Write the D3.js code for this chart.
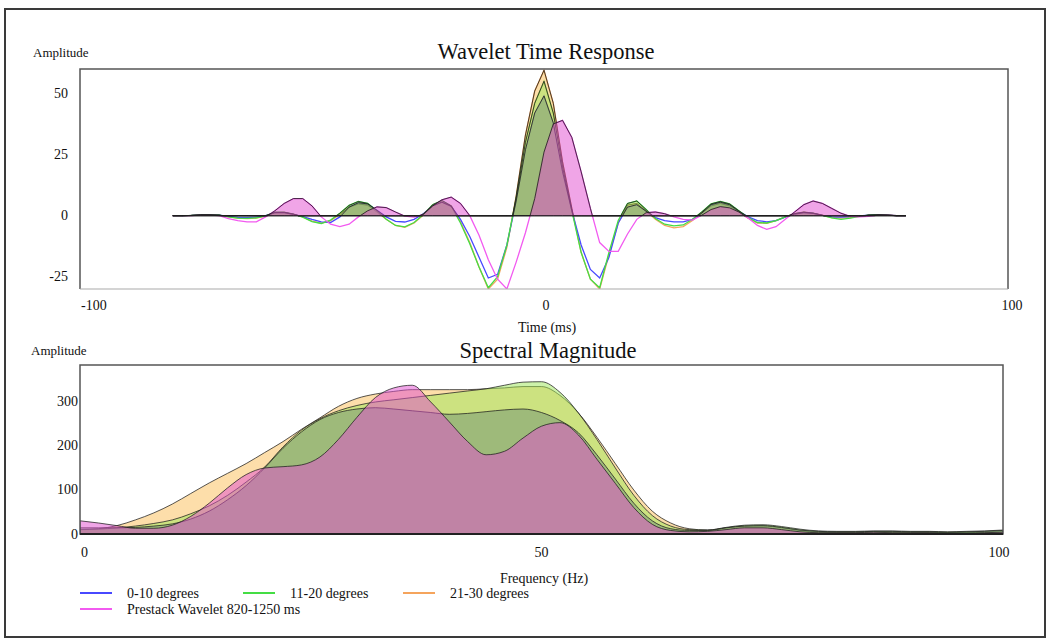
<!DOCTYPE html>
<html><head><meta charset="utf-8">
<script src="https://cdn.jsdelivr.net/npm/d3@7"></script>
<style>
body{margin:0;background:#fff;}
text{font-family:"Liberation Serif","Times New Roman",serif;fill:#111;}
</style></head><body>
<svg id="c" width="1049" height="641"></svg>
<script>
// ---------- DATA ----------
const seriesNames = ["0-10 degrees","11-20 degrees","21-30 degrees","Prestack Wavelet 820-1250 ms"];
const timeTicks = [-100, 0, 100];
const ampTicksTime = [-25, 0, 25, 50];
const freqTicks = [0, 50, 100];
const ampTicksFreq = [0, 100, 200, 300];

const timeMs = [-80,-78,-76,-74,-72,-70,-68,-66,-64,-62,-60,-58,-56,-54,-52,-50,-48,-46,-44,-42,-40,-38,-36,-34,-32,-30,-28,-26,-24,-22,-20,-18,-16,-14,-12,-10,-8,-6,-4,-2,0,2,4,6,8,10,12,14,16,18,20,22,24,26,28,30,32,34,36,38,40,42,44,46,48,50,52,54,56,58,60,62,64,66,68,70,72,74,76,78];

const wavBlue = [0,0,0.1,0.3,0.3,0.2,-0.3,-0.7,-0.8,-0.6,0,1.2,1.2,0.5,-0.4,-1.5,-2.5,-2.8,-0.5,3.5,5.3,4.8,2.2,-0.5,-2.3,-2.6,-1.5,0.8,4.0,5.5,3.8,-1.5,-8.5,-17,-25.5,-24,-12,6,27,42,49,38,18,2,-12,-22,-25.5,-17,-3,3.5,4.5,1.8,-0.8,-2.0,-2.5,-2.5,-1.5,1.0,4.5,5.5,4.5,1.8,-0.5,-2.0,-2.5,-2.0,-0.6,0.6,1.2,0.9,0.1,-0.5,-0.6,-0.4,-0.1,0.2,0.3,0.2,0,0];
const wavGreen = [0,0,0.1,0.3,0.3,0.2,-0.5,-1.0,-1.1,-0.9,-0.1,1.4,1.4,0.6,-0.6,-2.4,-3.2,-1.8,1.0,4.2,5.8,5.0,2.0,-1.5,-4.0,-4.6,-2.8,0.5,4.5,6.2,4.0,-3.0,-11.5,-21,-29.5,-25,-12,7,30,46,55,42,20,2,-15,-26,-29.5,-15,-2,5.0,6.0,2.5,-1.2,-3.5,-4.2,-3.8,-1.5,1.5,4.8,5.8,4.8,2.0,-0.8,-2.8,-3.0,-2.0,-0.5,0.8,1.4,1.0,0.1,-0.9,-1.5,-1.0,-0.3,0.2,0.3,0.2,0,0];
const wavOrange = [0,0,0.1,0.3,0.3,0.2,-0.5,-1.0,-1.2,-1.0,-0.2,1.2,1.3,0.6,-0.5,-2.2,-3.1,-2.0,0.5,3.5,4.8,4.3,1.5,-1.5,-4.0,-4.8,-3.0,0.3,4.0,5.6,4.0,-2.5,-11,-21,-30,-26,-13,8,33,51,59.5,46,22,3,-15,-26,-30,-16,-3,4.3,5.0,2.0,-1.5,-4.0,-5.0,-4.5,-2.0,1.2,4.0,5.0,4.0,1.5,-1.0,-3.0,-3.1,-2.0,-0.5,0.8,1.4,1.0,0.2,-0.8,-1.0,-0.8,-0.3,0.2,0.3,0.2,0,0];
const wavMagenta = [0,0,0,0.2,0.2,0,-1.2,-2.0,-2.5,-2.5,-0.5,2.0,5.0,7.0,7.0,4.0,-0.5,-3.5,-4.5,-3.5,-0.5,2.0,3.6,3.3,1.5,-0.2,-0.6,0.5,4.0,6.5,7.6,5.0,0,-8,-18,-26,-30,-19,-7,7,26,37.5,39,32,18,3,-11,-14.6,-14.6,-7.5,-1.5,1.2,1.5,0.8,-0.5,-1.5,-1.8,0.2,2.5,3.7,3.2,1.5,-1.0,-4.0,-5.6,-4.5,-1.5,1.5,4.5,6.0,5.0,3.0,1.0,-0.3,-0.5,-0.3,0.2,0.2,0,0];

const freqHz = [0,2,4,6,8,10,12,14,16,18,20,22,24,26,28,30,32,34,36,38,40,42,44,46,48,50,52,54,56,58,60,62,64,66,68,70,72,74,76,78,80,82,84,86,88,90,92,94,96,98,100];
const specBlue = [14,14,14,15,18,23,34,52,78,110,150,195,232,260,276,284,287,284,280,276,272,274,278,282,284,276,258,230,180,125,70,30,12,8,8,14,18,19,15,9,6,5,5,6,6,5,5,4,5,6,8];
const specGreen = [10,11,14,18,24,32,46,64,88,118,152,198,236,262,280,292,300,305,310,315,320,325,330,338,345,346,322,275,215,150,88,42,18,10,9,15,20,21,17,11,7,6,6,7,7,6,6,5,6,7,9];
const specOrange = [10,12,19,32,48,68,92,116,138,160,185,210,238,264,290,308,318,324,328,328,328,328,330,332,335,335,315,275,220,160,100,52,25,12,9,14,18,18,14,8,5,4,4,5,5,4,4,3,3,4,5];
const specMagenta = [30,25,19,13,13,20,40,70,105,135,150,153,157,175,215,265,310,332,338,300,255,210,180,188,218,245,253,225,170,115,60,22,8,5,6,10,14,14,10,5,3,3,3,4,3,3,3,2,2,3,4];

// ---------- STYLE ----------
const lineColor = ["#4848ff","#44dd44","#f5a45c","#f25af0"];
const fillColor = ["rgb(112,146,116)","rgb(155,230,86)","rgb(251,189,85)","rgb(226,76,208)"];
const fillOrder = [2,1,0,3];
const lineOrder = [2,0,1,3];
const wav = [wavBlue, wavGreen, wavOrange, wavMagenta];
const spec = [specBlue, specGreen, specOrange, specMagenta];

const svg = d3.select("#c");
svg.append("rect").attr("x",5).attr("y",9).attr("width",1040).attr("height",628)
  .attr("fill","none").attr("stroke","#3a3a3a").attr("stroke-width",2);

// ---------- TIME RESPONSE ----------
const T = {l:80, r:1008, t:69, b:289};
const xT = d3.scaleLinear().domain([-100,100]).range([T.l,T.r]);
const yT = d3.scaleLinear().domain([-30,60]).range([T.b,T.t]);

svg.append("clipPath").attr("id","clipT").append("rect")
  .attr("x",T.l).attr("y",T.t).attr("width",T.r-T.l).attr("height",T.b-T.t);
const gT = svg.append("g").attr("clip-path","url(#clipT)");

const lineT = d3.line().x((d,i)=>xT(timeMs[i])).y(d=>yT(d));
lineOrder.forEach(k=>{
  gT.append("path").datum(wav[k]).attr("d",lineT).attr("fill","none")
    .attr("stroke",lineColor[k]).attr("stroke-width",1.3);
});
function positivePts(vals){
  const pts=[];
  vals.forEach((v,i)=>{
    if(i>0){
      const v0=vals[i-1];
      if((v0<0&&v>0)||(v0>0&&v<0)){
        const t0=timeMs[i-1], t1=timeMs[i];
        pts.push({t:t0+(t1-t0)*(-v0)/(v-v0), v:0});
      }
    }
    pts.push({t:timeMs[i], v:Math.max(0,v)});
  });
  return pts;
}
const areaT = d3.area().x(d=>xT(d.t)).y0(yT(0)).y1(d=>yT(d.v));
fillOrder.forEach(k=>{
  gT.append("path").datum(positivePts(wav[k])).attr("d",areaT)
    .attr("fill",fillColor[k]).attr("fill-opacity",0.5)
    .attr("stroke","#1e1e1e").attr("stroke-opacity",0.8).attr("stroke-width",1);
});
// frame
svg.append("path").attr("d",`M${T.l},${T.b}V${T.t}H${T.r}V${T.b}`).attr("fill","none")
  .attr("stroke","#555").attr("stroke-width",1.5);
svg.append("line").attr("x1",T.l).attr("x2",T.r).attr("y1",T.b).attr("y2",T.b)
  .attr("stroke","#aaa").attr("stroke-width",1.2);

svg.append("g").selectAll("text").data(ampTicksTime).join("text")
  .attr("x",T.l-12).attr("y",d=>yT(d)).attr("text-anchor","end").attr("dominant-baseline","central")
  .attr("font-size",14).text(d=>d);
svg.append("g").selectAll("text").data(timeTicks).join("text")
  .attr("x",d=>xT(d)+(d===-100?1:d===0?2:4)).attr("y",T.b+16)
  .attr("text-anchor",d=>d===-100?"start":"middle").attr("dominant-baseline","central")
  .attr("font-size",14).text(d=>d);
svg.append("text").attr("x",33).attr("y",52).attr("font-size",13).attr("dominant-baseline","central").text("Amplitude");
svg.append("text").attr("x",546).attr("y",51).attr("font-size",22.5).attr("text-anchor","middle").attr("dominant-baseline","central").text("Wavelet Time Response");
svg.append("text").attr("x",547).attr("y",327).attr("font-size",14).attr("text-anchor","middle").attr("dominant-baseline","central").text("Time (ms)");

// ---------- SPECTRAL MAGNITUDE ----------
const S = {l:80, r:1003, t:365, b:534};
const xS = d3.scaleLinear().domain([0,100]).range([S.l,S.r]);
const yS = d3.scaleLinear().domain([0,384]).range([S.b,S.t]);
svg.append("clipPath").attr("id","clipS").append("rect")
  .attr("x",S.l).attr("y",S.t).attr("width",S.r-S.l).attr("height",S.b-S.t+1);
const gS = svg.append("g").attr("clip-path","url(#clipS)");
const areaS = d3.area().curve(d3.curveMonotoneX).x((d,i)=>xS(freqHz[i])).y0(yS(0)).y1(d=>yS(d));
fillOrder.forEach(k=>{
  gS.append("path").datum(spec[k]).attr("d",areaS)
    .attr("fill",fillColor[k]).attr("fill-opacity",0.5)
    .attr("stroke","#1e1e1e").attr("stroke-opacity",0.75).attr("stroke-width",1);
});
svg.append("rect").attr("x",S.l).attr("y",S.t).attr("width",S.r-S.l).attr("height",S.b-S.t)
  .attr("fill","none").attr("stroke","#555").attr("stroke-width",1.5);
svg.append("line").attr("x1",S.l).attr("x2",S.r).attr("y1",S.b).attr("y2",S.b)
  .attr("stroke","#111").attr("stroke-width",1.5);

svg.append("g").selectAll("text").data(ampTicksFreq).join("text")
  .attr("x",S.l-2).attr("y",d=>yS(d)).attr("text-anchor","end").attr("dominant-baseline","central")
  .attr("font-size",14).text(d=>d);
svg.append("g").selectAll("text").data(freqTicks).join("text")
  .attr("x",d=>xS(d)+(d===0?1:d===50?0:-4)).attr("y",S.b+18)
  .attr("text-anchor",d=>d===0?"start":"middle").attr("dominant-baseline","central")
  .attr("font-size",14).text(d=>d);
svg.append("text").attr("x",31).attr("y",350).attr("font-size",13).attr("dominant-baseline","central").text("Amplitude");
svg.append("text").attr("x",548).attr("y",350).attr("font-size",22.5).attr("text-anchor","middle").attr("dominant-baseline","central").text("Spectral Magnitude");
svg.append("text").attr("x",544).attr("y",578).attr("font-size",14).attr("text-anchor","middle").attr("dominant-baseline","central").text("Frequency (Hz)");

// ---------- LEGEND ----------
const legendPos = [[80,593],[243,593],[403,593],[80,609]];
const lg = svg.append("g").selectAll("g").data(seriesNames).join("g")
  .attr("transform",(d,i)=>`translate(${legendPos[i][0]},${legendPos[i][1]})`);
lg.append("line").attr("x1",0).attr("x2",32).attr("y1",0).attr("y2",0)
  .attr("stroke",(d,i)=>lineColor[i]).attr("stroke-width",2);
lg.append("text").attr("x",47).attr("y",0).attr("dominant-baseline","central")
  .attr("font-size",14).text(d=>d);
</script>
</body></html>
